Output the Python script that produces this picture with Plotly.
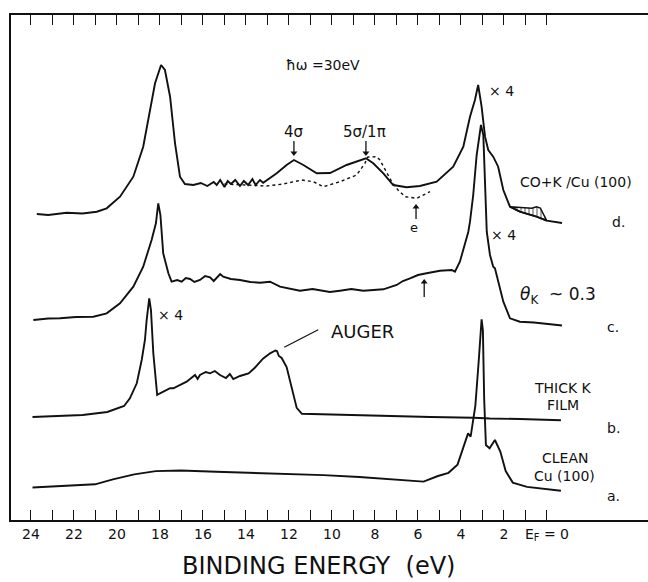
import plotly.graph_objects as go

# ---------------- data (binding energy in eV, intensity in arbitrary units) -------------
d_energy = [23.73, 23.2, 22.34, 21.6, 20.94, 20.48, 19.86, 19.24, 18.78, 18.47, 18.23, 17.95, 17.77,
            17.53, 17.30, 17.07, 16.84, 16.45, 16.1, 15.8, 15.5, 15.36, 15.2, 15.0, 14.85, 14.7,
            14.5, 14.28, 14.1, 13.9, 13.7, 13.55, 13.35, 13.20, 12.57, 12.11, 11.77, 11.33, 10.71,
            10.09, 9.32, 8.42, 8.08, 7.61, 7.15, 6.53, 5.91, 5.13, 4.36, 3.89, 3.58, 3.35, 3.20,
            3.04, 2.88, 2.73, 2.50, 2.27, 2.03, 1.72, 1.26, 0.48, 0.01, -0.70]
d_intensity = [306, 305, 307.3, 306.5, 308.3, 311.7, 323.3, 343.3, 373.3, 410, 436.7, 455, 450,
               423.3, 376.7, 343.3, 336, 335, 337, 334, 338, 335, 340, 333, 339, 336,
               340, 334, 339, 335, 341, 335, 340, 337.3, 346.7, 355, 360, 355, 346.7,
               347, 355, 361.7, 356.7, 346.7, 335, 332.7, 334, 338.3, 353.3, 373.3, 403.3, 420, 435,
               413.3, 383.3, 370, 363.3, 353.3, 330, 313.3, 308.3, 303.3, 299.3, 297]

e_energy = [15.0, 13.66, 13.04, 12.27, 11.41, 10.87, 10.40, 9.63, 8.85, 8.47, 8.33, 7.92, 7.77,
            7.22, 6.93, 6.60, 6.06, 5.44]
e_intensity = [336, 335, 334, 336, 340, 338.3, 333.3, 338.3, 345, 356.7, 363, 363.3, 360,
               338.3, 330, 323.3, 321.7, 328.3]

hatch_energy = [1.72, 0.71, 0.48, 0.31, 0.01, 0.48, 1.26, 1.72]
hatch_intensity = [313.3, 311.7, 313.3, 312, 299.3, 303.3, 308.3, 313.3]

c_energy = [23.89, 23.2, 22.65, 21.9, 21.10, 20.48, 19.86, 19.24, 18.78, 18.39, 18.19, 18.08,
            17.98, 17.85, 17.61, 17.46, 17.2, 16.99, 16.8, 16.60, 16.4, 16.14, 15.9, 15.67, 15.5,
            15.40, 15.2, 15.06, 14.7, 14.28, 13.8, 13.35, 12.88, 12.42, 11.49, 10.9, 10.56, 10.1,
            9.63, 9.1, 8.54, 7.61, 6.99, 6.7, 6.37, 6.0, 5.60, 5.3, 4.98, 4.43, 4.28, 4.05, 3.81,
            3.66, 3.58, 3.43, 3.27, 3.12, 3.07, 2.96, 2.88, 2.80, 2.65, 2.50, 2.42, 2.27, 2.03,
            1.72, 1.26, 0.6, 0.17, -0.70]
c_intensity = [200, 201.5, 201.7, 203, 203.3, 206.7, 216.7, 233.3, 253.3, 280, 296.7, 316.7,
               305, 266.7, 246.7, 238.3, 240, 238.3, 242, 241, 238, 240, 244, 242.7, 239,
               241, 246, 243.3, 241, 240, 238, 237.3, 238.3, 233.3, 229.3, 231, 230, 228,
               229.3, 231, 229.3, 230.7, 235, 239, 241.7, 245, 246.7, 248, 249.3, 250, 248.3, 258.3,
               276.7, 288, 298.3, 325, 365, 391.7, 395, 385, 331.7, 288.3, 265, 253.3, 251.7, 238.3,
               218.3, 201.7, 198.3, 197.5, 196.7, 194.5]

b_energy = [23.93, 22.8, 21.60, 20.45, 19.67, 19.40, 19.08, 18.85, 18.70, 18.62, 18.50, 18.42,
            18.31, 18.13, 18.00, 17.53, 17.38, 16.76, 16.5, 16.37, 16.25, 16.14, 15.87, 15.67,
            15.45, 15.21, 14.93, 14.75, 14.59, 14.28, 13.88, 13.6, 13.21, 12.88, 12.63, 12.56,
            12.47, 12.34, 12.11, 11.89, 11.64, 11.40, 10.39, 7.91, 5.41, 3.41, 2.65, 1.26, -0.65]
b_intensity = [103, 104, 105, 108, 114, 121.7, 136.7, 160, 180, 200, 221.7, 210,
               166.7, 125, 126.7, 131.8, 131.7, 138.3, 143, 145, 141, 145, 148, 146.7,
               149, 145, 142, 146, 141, 144, 146.6, 152, 161.3, 166.7, 169.5, 169,
               164, 162, 153, 135, 112.1, 106.2, 105.6, 104.6, 103, 102.3, 101.5, 101, 99.7]

a_energy = [23.93, 22.52, 21.02, 20.19, 19.20, 18.20, 17.04, 15.38, 13.72, 12.05, 10.39, 8.73,
            7.07, 5.74, 5.07, 4.58, 4.16, 3.91, 3.67, 3.55, 3.33, 3.17, 3.09, 3.04, 2.98, 2.92,
            2.84, 2.67, 2.42, 2.17, 1.92, 1.59, 0.93, -0.07, -0.65]
a_intensity = [32.5, 34, 35.7, 40.7, 45.6, 48.9, 49.5, 48.2, 47.2, 46.2, 44.9, 43,
               40.7, 38.4, 44, 47.2, 55.4, 71.8, 86.6, 83.3, 114.4, 160.3, 190, 200.7, 190, 121,
               75, 71.8, 80, 68.5, 48.9, 37.4, 33.1, 30.8, 29.2]

# marker arrows: energy, shaft base intensity, tip intensity
arrow_energy = [11.77, 8.42, 6.09, 5.71]
arrow_base = [379, 379, 301, 223]
arrow_tip = [367, 367, 313, 238]

tick_values = list(range(0, 25, 2))
tick_labels = ["E<sub>F</sub> = 0" if v == 0 else str(v) for v in tick_values]

FONT = "DejaVu Sans"
INK = "#111111"

fig = go.Figure()
line = dict(color=INK, width=1.9)
fig.add_trace(go.Scatter(x=a_energy, y=a_intensity, mode="lines", line=line))
fig.add_trace(go.Scatter(x=b_energy, y=b_intensity, mode="lines", line=line))
fig.add_trace(go.Scatter(x=c_energy, y=c_intensity, mode="lines", line=line))
fig.add_trace(go.Scatter(x=d_energy, y=d_intensity, mode="lines", line=line))
fig.add_trace(go.Scatter(x=e_energy, y=e_intensity, mode="lines",
                         line=dict(color=INK, width=1.4, dash="dot")))
fig.add_trace(go.Scatter(x=hatch_energy, y=hatch_intensity, mode="lines", fill="toself",
                         fillcolor="rgba(0,0,0,0)",
                         fillpattern=dict(shape="|", fgcolor=INK, size=4, solidity=0.35),
                         line=dict(color=INK, width=1.5)))

# arrows: shafts as shapes, heads as triangle markers
for xe, yb, yt in zip(arrow_energy, arrow_base, arrow_tip):
    fig.add_shape(type="line", x0=xe, y0=yb, x1=xe, y1=yt, line=dict(color=INK, width=1.3))
fig.add_trace(go.Scatter(
    x=arrow_energy, y=arrow_tip, mode="markers",
    marker=dict(symbol=["triangle-down" if t < b else "triangle-up"
                        for b, t in zip(arrow_base, arrow_tip)],
                size=6, color=INK)))


def txt(x, y, s, size=14, anchor="center"):
    fig.add_annotation(x=x, y=y, text=s, showarrow=False, xanchor=anchor, yanchor="middle",
                       font=dict(family=FONT, size=size, color=INK))


txt(10.42, 455, "ħω =30eV", 14)
txt(11.77, 388.3, "4σ", 15)
txt(8.51, 388.3, "5σ/1π", 15)
txt(6.17, 293, "e", 13)
txt(2.12, 429, "× 4", 14)
txt(2.0, 285, "× 4", 14)
txt(17.49, 205, "× 4", 14)
txt(8.56, 188.3, "AUGER", 18)
fig.add_shape(type="line", x0=12.22, y0=172.8, x1=10.64, y1=190.2, line=dict(color=INK, width=1.2))
txt(1.35, 338.3, "CO+K /Cu (100)", 14, "left")
txt(-3.35, 298, "d.", 14)
txt(1.35, 225, "<i>θ</i><sub>K</sub>  ~ 0.3", 17, "left")
txt(-3.07, 193.3, "c.", 14)
txt(-0.74, 132, "THICK K", 14)
txt(-0.74, 115, "FILM", 14)
txt(-3.1, 92, "b.", 14)
txt(-0.85, 62, "CLEAN", 14)
txt(-0.8, 44, "Cu (100)", 14)
txt(-3.1, 24, "a.", 14)

fig.add_annotation(xref="paper", yref="paper", x=0.482, y=-0.092, yanchor="middle",
                   text="BINDING ENERGY  (eV)", showarrow=False,
                   font=dict(family=FONT, size=24, color=INK))

fig.update_xaxes(range=[24.93, -4.70], showline=True, linecolor=INK, linewidth=1.5,
                 mirror="ticks", ticks="inside", ticklen=10, tickwidth=1.4, tickcolor=INK,
                 tickvals=tick_values, ticktext=tick_labels, showgrid=False, zeroline=False,
                 minor=dict(tickvals=list(range(1, 25, 2)), ticks="inside", ticklen=10,
                            tickwidth=1.4, tickcolor=INK, showgrid=False),
                 tickfont=dict(family=FONT, size=14, color=INK))
fig.update_yaxes(range=[0, 505], showline=True, linecolor=INK, linewidth=1.5,
                 showticklabels=False, ticks="", showgrid=False, zeroline=False)

fig.update_layout(width=648, height=582, margin=dict(l=11, r=0, t=15, b=62),
                  paper_bgcolor="white", plot_bgcolor="white", showlegend=False)

fig.write_html("out.html", config={"displayModeBar": False},
               post_script="document.body.style.margin='0';document.body.style.overflow='hidden';")
